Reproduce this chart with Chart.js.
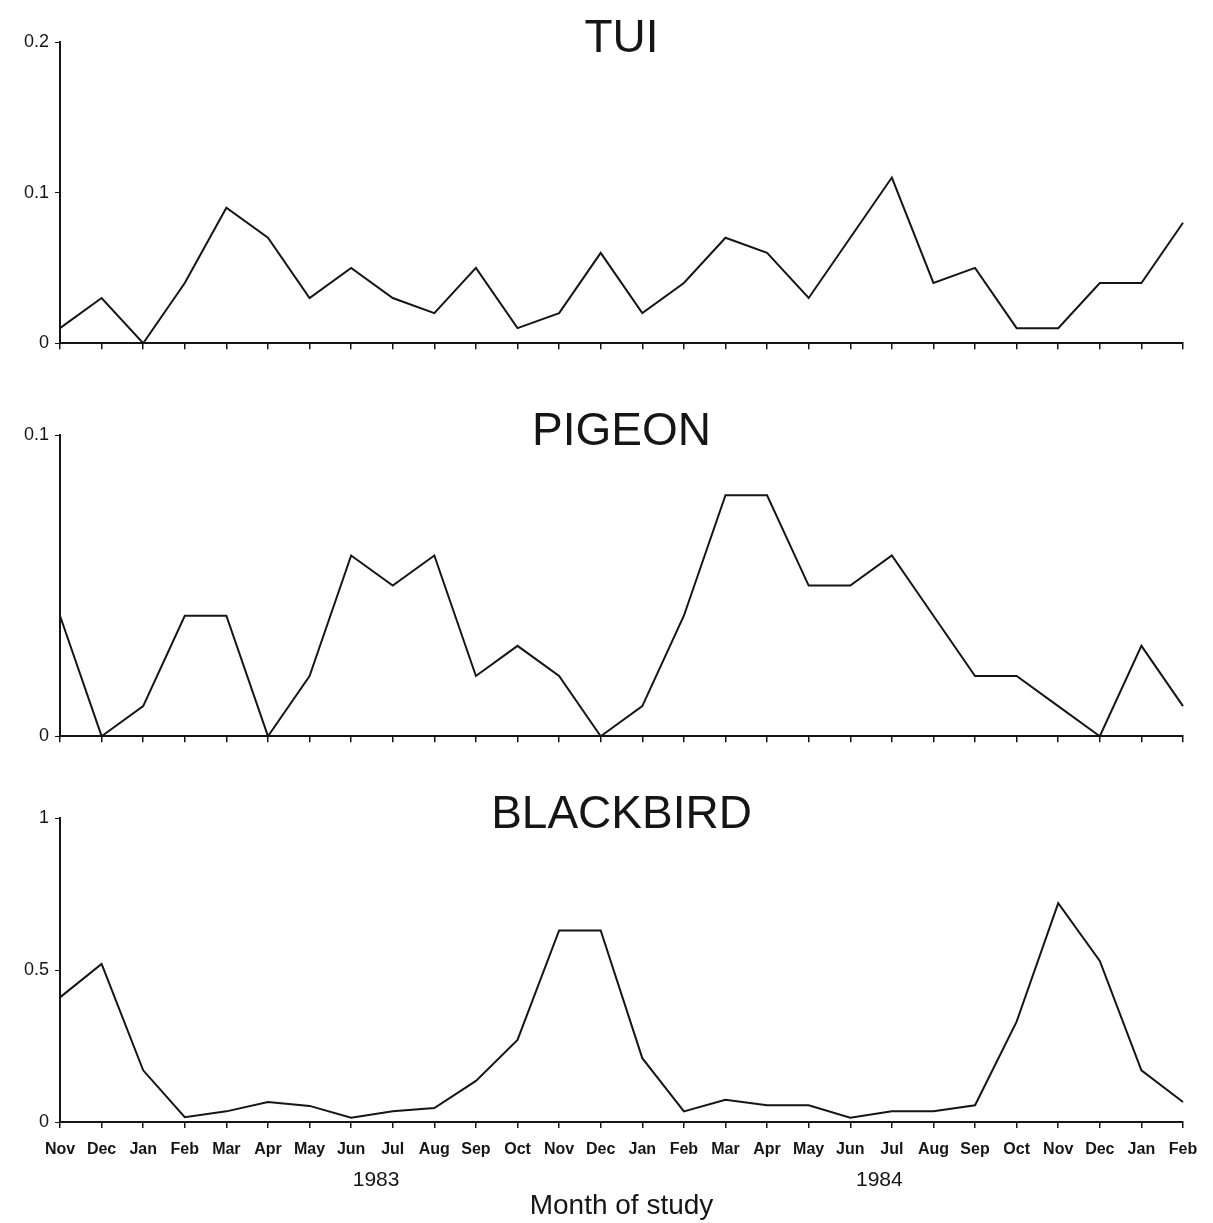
<!DOCTYPE html>
<html>
<head>
<meta charset="utf-8">
<script src="https://cdn.jsdelivr.net/npm/chart.js@4"></script>
<style>
  body { margin: 0; background: #fff; }
  #wrap { position: relative; width: 1213px; height: 1223px; }
  .panel { position: absolute; left: 0; width: 1213px; }
</style>
</head>
<body>
<div id="wrap">
  <div class="panel" style="top:0;height:360px"><canvas id="tui"></canvas></div>
  <div class="panel" style="top:360px;height:393px"><canvas id="pigeon"></canvas></div>
  <div class="panel" style="top:753px;height:470px"><canvas id="blackbird"></canvas></div>
</div>
<script>
// months Nov 1982 - Feb 1985
var meses = ['Nov','Dec','Jan','Feb','Mar','Apr','May','Jun','Jul','Aug','Sep','Oct',
             'Nov','Dec','Jan','Feb','Mar','Apr','May','Jun','Jul','Aug','Sep','Oct',
             'Nov','Dec','Jan','Feb']

var tui = [0.01,0.03,0,0.04,0.09,0.07,0.03,0.05,0.03,0.02,0.05,0.01,0.02,0.06,
           0.02,0.04,0.07,0.06,0.03,0.07,0.11,0.04,0.05,0.01,0.01,0.04,0.04,0.08]
var pigeon = [0.04,0,0.01,0.04,0.04,0,0.02,0.06,0.05,0.06,0.02,0.03,0.02,0,
              0.01,0.04,0.08,0.08,0.05,0.05,0.06,0.04,0.02,0.02,0.01,0,0.03,0.01]
var blackbird = [0.41,0.52,0.17,0.016,0.035,0.066,0.053,0.014,0.035,0.046,0.135,0.27,0.63,0.63,
                 0.21,0.035,0.073,0.055,0.055,0.014,0.035,0.035,0.055,0.33,0.72,0.53,0.17,0.066]

var anos = ['1983','1984']
var posAnos = [7.6, 19.7]

var fonte = '"Liberation Sans", Arial, sans-serif'
var tinta = '#151515'

var textoPainel = {
  id: 'textoPainel',
  afterDraw(chart, args, opts) {
    const ctx = chart.ctx
    const area = chart.chartArea
    ctx.save()
    ctx.fillStyle = tinta
    ctx.textAlign = 'center'
    ctx.textBaseline = 'alphabetic'
    ctx.font = '46px ' + fonte
    ctx.fillText(opts.titulo, (area.left + area.right) / 2, area.top + 10)
    if (opts.anos) {
      ctx.font = '21px ' + fonte
      opts.anos.forEach(function (a, i) {
        ctx.fillText(a, chart.scales.x.getPixelForValue(opts.pos[i]), area.bottom + 64)
      })
    }
    ctx.restore()
  }
}

function criarPainel(id, dados, titulo, ymax, passo, topo, altX, ultimo) {
  return new Chart(document.getElementById(id), {
    type: 'line',
    data: {
      labels: meses,
      datasets: [{
        data: dados,
        borderColor: tinta,
        borderWidth: 2,
        pointRadius: 0,
        tension: 0,
        fill: false
      }]
    },
    options: {
      responsive: true,
      maintainAspectRatio: false,
      animation: false,
      layout: { padding: { top: topo, right: 30, bottom: 0, left: 0 } },
      scales: {
        x: {
          offset: false,
          border: { color: tinta, width: 2 },
          grid: { drawOnChartArea: false, drawTicks: true, tickLength: 6, color: tinta, lineWidth: 1.5 },
          ticks: {
            display: ultimo,
            autoSkip: false,
            maxRotation: 0,
            padding: 12,
            color: tinta,
            font: { family: fonte, size: 16, weight: 'bold' }
          },
          title: {
            display: ultimo,
            text: 'Month of study',
            color: tinta,
            font: { family: fonte, size: 28 },
            padding: { top: 0, bottom: 0 }
          },
          afterFit: function (s) { s.height = altX }
        },
        y: {
          min: 0,
          max: ymax,
          border: { color: tinta, width: 2 },
          grid: { drawOnChartArea: false, drawTicks: true, tickLength: 5, color: tinta },
          ticks: {
            stepSize: passo,
            padding: 6,
            color: tinta,
            font: { family: fonte, size: 18 },
            callback: function (v) { return String(+v.toFixed(2)) }
          },
          afterFit: function (s) { s.width = 60 }
        }
      },
      plugins: {
        legend: { display: false },
        tooltip: { enabled: false },
        textoPainel: ultimo ? { titulo: titulo, anos: anos, pos: posAnos } : { titulo: titulo }
      }
    },
    plugins: [textoPainel]
  })
}

criarPainel('tui', tui, 'TUI', 0.2, 0.1, 42, 14, false)
criarPainel('pigeon', pigeon, 'PIGEON', 0.1, 0.1, 75, 14, false)
criarPainel('blackbird', blackbird, 'BLACKBIRD', 1, 0.5, 65, 101, true)
</script>
</body>
</html>
